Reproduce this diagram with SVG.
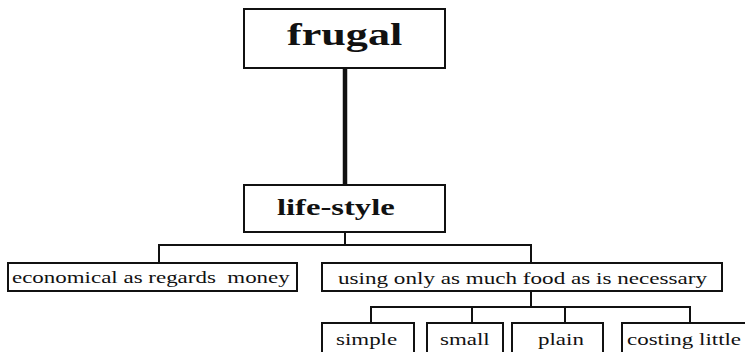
<svg xmlns="http://www.w3.org/2000/svg" width="745" height="352" viewBox="0 0 745 352">
<style>
.box{fill:#fff;stroke:#111;stroke-width:2}
.c{fill:none;stroke:#111;stroke-width:2}
text{fill:#111;font-family:"Liberation Serif",serif}
.b{font-weight:bold}
.r{font-size:17px}
</style>
<rect width="745" height="352" fill="#fff"/>
<g id="connectors">
<line x1="345" y1="68" x2="345" y2="185" stroke="#111" stroke-width="4.5"/>
<path class="c" d="M345 232V245M159 263V245H531V263M531 291V307M371 323V307H690V323M472 307V323M565 307V323"/>
</g>
<g id="frugal"><rect class="box" x="244" y="9" width="201" height="59"/><text class="b" font-size="32" transform="matrix(1.38 0 0 1 287 45)">frugal</text></g>
<g id="lifestyle"><rect class="box" x="244" y="185" width="201" height="47"/><text class="b" font-size="24" transform="matrix(1.36 0 0 1 277 215)">life-style</text></g>
<g id="economical"><rect class="box" x="8" y="263" width="289" height="28"/><text class="r" xml:space="preserve" transform="matrix(1.35 0 0 1 12 283)">economical as regards  money</text></g>
<g id="using"><rect class="box" x="322" y="263" width="400" height="28"/><text class="r" transform="matrix(1.36 0 0 1 338 284)">using only as much food as is necessary</text></g>
<g id="simple"><rect class="box" x="322" y="323" width="92" height="40" stroke-width="2.5"/><text class="r" transform="matrix(1.35 0 0 1 336 345)">simple</text></g>
<g id="small"><rect class="box" x="427" y="323" width="76" height="40" stroke-width="2.5"/><text class="r" transform="matrix(1.35 0 0 1 440 345)">small</text></g>
<g id="plain"><rect class="box" x="512" y="323" width="91" height="40" stroke-width="2.5"/><text class="r" transform="matrix(1.35 0 0 1 538 345)">plain</text></g>
<g id="costing"><rect class="box" x="622" y="323" width="130" height="40" stroke-width="2.5"/><text class="r" transform="matrix(1.35 0 0 1 627 345)">costing little</text></g>
</svg>
